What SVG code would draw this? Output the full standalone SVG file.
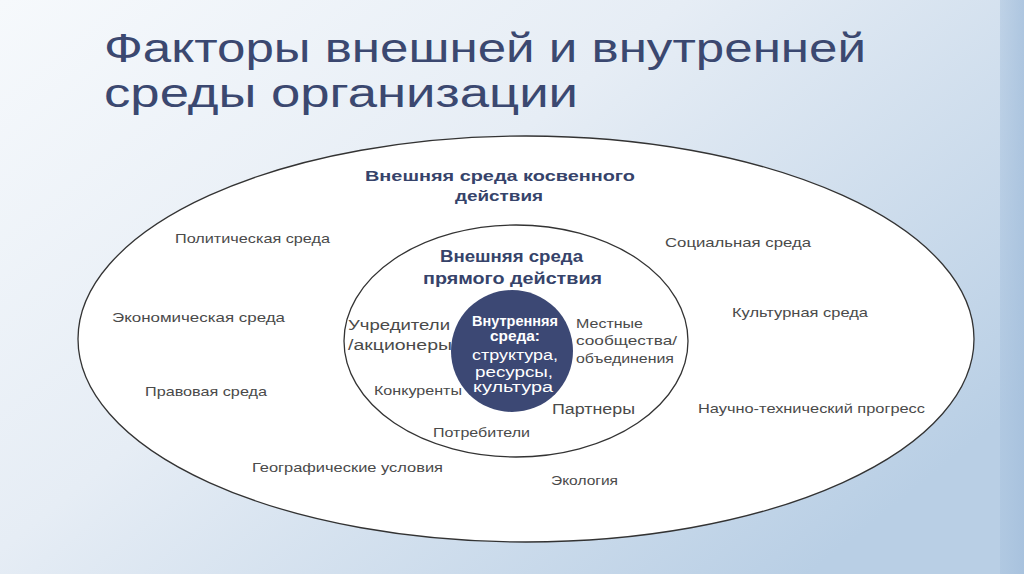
<svg xmlns="http://www.w3.org/2000/svg" width="1024" height="574" viewBox="0 0 1024 574">
<defs>
<linearGradient id="bg" x1="0" y1="0" x2="1" y2="0.7">
<stop offset="0" stop-color="#f6f9fc"/>
<stop offset="0.45" stop-color="#e6edf5"/>
<stop offset="1" stop-color="#b9cfe5"/>
</linearGradient>
<linearGradient id="strip" x1="0" y1="0" x2="1" y2="0">
<stop offset="0" stop-color="#a8c2de" stop-opacity="0.5"/>
<stop offset="1" stop-color="#a4bfdc" stop-opacity="0.8"/>
</linearGradient>
<style>
.lbl{font-family:"Liberation Sans",Arial,sans-serif;font-size:13px;fill:#4a4a4a;}
.in{font-family:"Liberation Sans",Arial,sans-serif;font-size:14px;fill:#4a4a4a;}
.hd{font-family:"Liberation Sans",Arial,sans-serif;font-weight:bold;fill:#36436a;}
.ct{font-family:"Liberation Sans",Arial,sans-serif;font-size:14px;fill:#ffffff;text-anchor:middle;}
.title{font-family:"Liberation Sans",Arial,sans-serif;font-size:40px;fill:#3b4870;}
.ring{fill:#ffffff;stroke:#333333;stroke-width:1.3;}
</style>
</defs>
<rect x="0" y="0" width="1024" height="574" fill="url(#bg)"/>
<rect x="1000" y="0" width="24" height="574" fill="url(#strip)"/>
<g id="title">
<text class="title" x="104" y="62" textLength="762" lengthAdjust="spacingAndGlyphs">Факторы внешней и внутренней</text>
<text class="title" x="104" y="107" textLength="474" lengthAdjust="spacingAndGlyphs">среды организации</text>
</g>
<g id="outer">
<ellipse class="ring" cx="526" cy="339" rx="448" ry="203"/>
<text class="hd" font-size="15" x="365" y="181" textLength="270" lengthAdjust="spacingAndGlyphs">Внешняя среда косвенного</text>
<text class="hd" font-size="15" x="455" y="201" textLength="88" lengthAdjust="spacingAndGlyphs">действия</text>
<text class="lbl" x="175" y="243" textLength="155" lengthAdjust="spacingAndGlyphs">Политическая среда</text>
<text class="lbl" x="665" y="247" textLength="146" lengthAdjust="spacingAndGlyphs">Социальная среда</text>
<text class="lbl" x="112" y="322" textLength="173" lengthAdjust="spacingAndGlyphs">Экономическая среда</text>
<text class="lbl" x="732" y="317" textLength="136" lengthAdjust="spacingAndGlyphs">Культурная среда</text>
<text class="lbl" x="145" y="396" textLength="122" lengthAdjust="spacingAndGlyphs">Правовая среда</text>
<text class="lbl" x="698" y="413" textLength="227" lengthAdjust="spacingAndGlyphs">Научно-технический прогресс</text>
<text class="lbl" x="252" y="472" textLength="191" lengthAdjust="spacingAndGlyphs">Географические условия</text>
<text class="lbl" x="551" y="485" textLength="67" lengthAdjust="spacingAndGlyphs">Экология</text>
</g>
<g id="direct">
<ellipse class="ring" cx="516" cy="341" rx="172" ry="116"/>
<text class="hd" font-size="16" x="440" y="262" textLength="143" lengthAdjust="spacingAndGlyphs">Внешняя среда</text>
<text class="hd" font-size="16" x="423" y="284" textLength="179" lengthAdjust="spacingAndGlyphs">прямого действия</text>
<text class="in" x="348" y="330" textLength="102" lengthAdjust="spacingAndGlyphs">Учредители</text>
<text class="in" x="348" y="350" textLength="104" lengthAdjust="spacingAndGlyphs">/акционеры</text>
<text class="lbl" x="374" y="395" textLength="88" lengthAdjust="spacingAndGlyphs">Конкуренты</text>
<text class="lbl" x="433" y="437" textLength="97" lengthAdjust="spacingAndGlyphs">Потребители</text>
<text class="in" font-size="15" x="552" y="414" textLength="83" lengthAdjust="spacingAndGlyphs">Партнеры</text>
<text class="lbl" x="576" y="328" textLength="67" lengthAdjust="spacingAndGlyphs">Местные</text>
<text class="lbl" x="576" y="345" textLength="101" lengthAdjust="spacingAndGlyphs">сообщества/</text>
<text class="lbl" x="576" y="363" textLength="98" lengthAdjust="spacingAndGlyphs">объединения</text>
</g>
<g id="internal">
<circle cx="512" cy="351" r="61" fill="#3c4874"/>
<text class="ct" font-weight="bold" font-size="13" x="515" y="326" textLength="86" lengthAdjust="spacingAndGlyphs">Внутренняя</text>
<text class="ct" font-weight="bold" font-size="13" x="515" y="341" textLength="50" lengthAdjust="spacingAndGlyphs">среда:</text>
<text class="ct" x="515" y="360" textLength="86" lengthAdjust="spacingAndGlyphs">структура,</text>
<text class="ct" x="514" y="377" textLength="78" lengthAdjust="spacingAndGlyphs">ресурсы,</text>
<text class="ct" x="513" y="392" textLength="80" lengthAdjust="spacingAndGlyphs">культура</text>
</g>
<g id="connectors"></g>
</svg>
